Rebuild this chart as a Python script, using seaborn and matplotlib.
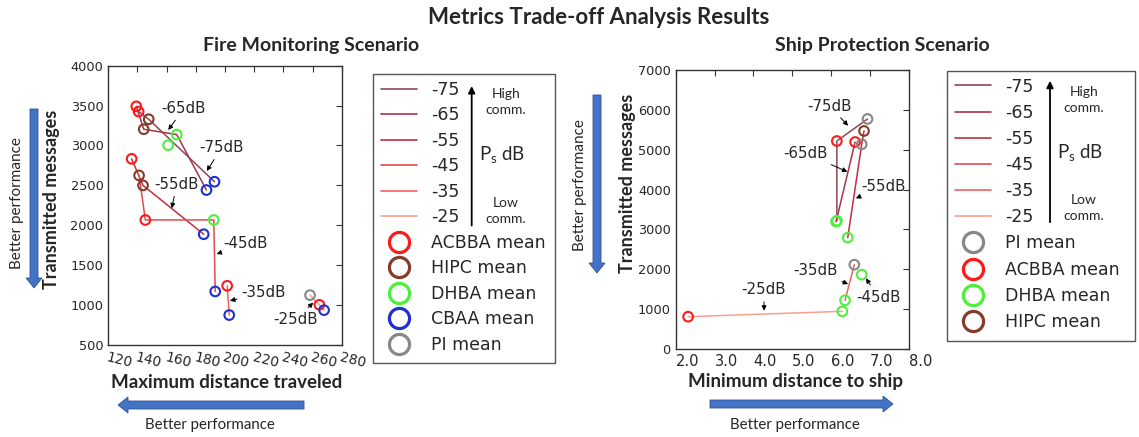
import numpy as np
import pandas as pd
import matplotlib
matplotlib.use("Agg")
import matplotlib.pyplot as plt
import seaborn as sns
from matplotlib.lines import Line2D
from matplotlib.patches import FancyArrow, FancyArrowPatch, Rectangle
from matplotlib.transforms import Affine2D

# ---------------- data ----------------
levels = ["-75", "-65", "-55", "-45", "-35", "-25"]

# Fire monitoring scenario (points listed in the order each power level's line visits them)
fire_level = ["-75", "-75", "-75", "-75",
              "-65", "-65", "-65", "-65",
              "-55", "-55", "-55",
              "-45", "-45", "-45", "-45",
              "-35", "-35",
              "-25", "-25", "-25"]
fire_alg = ["ACBBA", "HIPC", "CBAA", "DHBA",
            "ACBBA", "HIPC", "DHBA", "CBAA",
            "ACBBA", "HIPC", "CBAA",
            "HIPC", "ACBBA", "DHBA", "CBAA",
            "ACBBA", "CBAA",
            "PI", "ACBBA", "CBAA"]
fire_dist = [140.8, 147.7, 192.8, 161.0,
             139.2, 144.3, 166.9, 187.3,
             136.0, 143.8, 185.4,
             141.1, 145.4, 192.3, 193.3,
             201.5, 202.9,
             258.3, 264.7, 267.9]
fire_msgs = [3425, 3329, 2546, 3004,
             3491, 3204, 3137, 2442,
             2833, 2500, 1888,
             2625, 2067, 2067, 1171,
             1242, 875,
             1125, 1004, 937]
fire_linked = [True, True, True, False,
               True, True, True, True,
               True, True, True,
               True, True, True, True,
               True, True,
               True, True, True]

# Ship protection scenario
ship_level = ["-75", "-75", "-75",
              "-65", "-65",
              "-55", "-55", "-55",
              "-45",
              "-35", "-35",
              "-25", "-25"]
ship_alg = ["PI", "ACBBA", "DHBA",
            "ACBBA", "DHBA",
            "HIPC", "PI", "DHBA",
            "DHBA",
            "PI", "DHBA",
            "ACBBA", "DHBA"]
ship_dist = [6.94, 6.15, 6.15,
             6.62, 6.13,
             6.85, 6.79, 6.43,
             6.79,
             6.60, 6.36,
             2.32, 6.29]
ship_msgs = [5766, 5215, 3220,
             5190, 3195,
             5466, 5132, 2794,
             1868,
             2118, 1227,
             816, 951]

fire_legend_algs = ["ACBBA", "HIPC", "DHBA", "CBAA", "PI"]
ship_legend_algs = ["PI", "ACBBA", "DHBA", "HIPC"]

# ---------------- styling ----------------
level_colors = dict(zip(levels, ["#8e4656", "#a5354a", "#c22f40",
                                 "#e04a50", "#f06262", "#f7a08e"]))
alg_colors = {"ACBBA": "#ff1a1a", "HIPC": "#843c2c", "DHBA": "#4cf03c",
              "CBAA": "#1f2fd0", "PI": "#888888"}
arrow_blue, arrow_edge = "#4472C4", "#2F5597"

sns.set_theme(style="white")
plt.rcParams["font.family"] = ["DejaVu Sans"]
plt.rcParams["axes.edgecolor"] = "#333333"
plt.rcParams["axes.linewidth"] = 1.0
CAL = "Lato"

W, H = 1139, 437
fig = plt.figure(figsize=(W / 100, H / 100), dpi=100)
P = Affine2D().scale(1 / W, -1 / H).translate(0, 1) + fig.transFigure


def ax_rect(l, t, r, b):
    return [l / W, 1 - b / H, (r - l) / W, (b - t) / H]


ax1 = fig.add_axes(ax_rect(108.3, 65.7, 341.7, 345.0))
ax2 = fig.add_axes(ax_rect(675.7, 69.7, 908.7, 349.3))

fire = pd.DataFrame({"level": fire_level, "alg": fire_alg, "dist": fire_dist,
                     "msgs": fire_msgs, "linked": fire_linked})
ship = pd.DataFrame({"level": ship_level, "alg": ship_alg, "dist": ship_dist,
                     "msgs": ship_msgs})
ship["linked"] = True


def draw(ax, df):
    lk = df[df["linked"]]
    sns.lineplot(data=lk, x="dist", y="msgs", hue="level", hue_order=levels,
                 palette=level_colors, sort=False, estimator=None,
                 legend=False, lw=1.1, ax=ax, zorder=2)
    sns.scatterplot(data=df, x="dist", y="msgs", hue="alg", palette=alg_colors,
                    s=48, legend=False, ax=ax, zorder=3)
    coll = ax.collections[-1]
    coll.set_edgecolors(coll.get_facecolors())
    coll.set_facecolor("none")
    coll.set_linewidth(1.5)


draw(ax1, fire)
draw(ax2, ship)

for ax in (ax1, ax2):
    ax.set_xlabel("")
    ax.set_ylabel("")
    ax.tick_params(direction="in", top=True, right=True, length=4, width=0.8,
                   color="#333333", labelsize=9.3, pad=3.5)

ax1.set_xlim(120, 280)
ax1.set_ylim(500, 4000)
ax1.set_xticks(np.arange(120, 281, 20))
ax1.set_yticks(np.arange(500, 4001, 500))
for lab in ax1.get_xticklabels():
    lab.set_rotation(-14)
    lab.set_ha("left")
    lab.set_va("top")
    lab.set_rotation_mode("anchor")
    lab.set_fontsize(10)

ax2.set_xlim(2, 8)
ax2.set_ylim(0, 7000)
ax2.set_xticks(np.arange(2, 8.01, 1))
ax2.set_xticklabels([f"{v:.1f}" for v in np.arange(2, 8.01, 1)])
ax2.set_yticks(np.arange(0, 7001, 1000))
for lab in ax2.get_xticklabels():
    lab.set_ha("left")
    lab.set_fontsize(10.5)

# power level annotations: (label, arrow tip, text centre)
fire_notes = [("-65dB", (161.1, 3194), (171.8, 3466)),
              ("-75dB", (187.5, 2681), (197.9, 2973)),
              ("-55dB", (163.5, 2213), (166.9, 2514)),
              ("-45dB", (194.3, 1640), (214.1, 1775)),
              ("-35dB", (203.4, 1055), (226.7, 1156)),
              ("-25dB", (260.5, 1030), (248.5, 822))]
ship_notes = [("-75dB", (6.44, 5598), (5.96, 6091)),
              ("-65dB", (6.42, 4446), (5.34, 4907)),
              ("-55dB", (6.64, 3780), (7.34, 4081)),
              ("-35dB", (6.44, 1635), (5.59, 1965)),
              ("-45dB", (6.90, 1778), (7.21, 1309)),
              ("-25dB", (4.28, 966), (4.26, 1492))]
for ax, notes in ((ax1, fire_notes), (ax2, ship_notes)):
    for txt, tip, pos in notes:
        ax.annotate(txt, xy=tip, xytext=pos, ha="center", va="center",
                    fontsize=10.8, zorder=4,
                    arrowprops=dict(arrowstyle="-|>", color="black", lw=0.7,
                                    mutation_scale=7, shrinkA=1, shrinkB=0))

# axis titles
ax1.set_ylabel("Transmitted messages", family=CAL, fontweight="bold",
               fontsize=13, va="center")
ax1.yaxis.set_label_coords((51.7 - 108.3) / 233.4, (345 - 199) / 279.3)
ax1.set_xlabel("Maximum distance traveled", family=CAL, fontweight="bold",
               fontsize=13.5, va="center")
ax1.xaxis.set_label_coords((226.7 - 108.3) / 233.4, (345 - 382) / 279.3)
ax2.set_ylabel("Transmitted messages", family=CAL, fontweight="bold",
               fontsize=13, va="center")
ax2.yaxis.set_label_coords((628 - 675.7) / 233, (349.3 - 183) / 279.6)
ax2.set_xlabel("Minimum distance to ship", family=CAL, fontweight="bold",
               fontsize=13.5, va="center")
ax2.xaxis.set_label_coords((795 - 675.7) / 233, (349.3 - 382) / 279.6)


def ptext(x, y, s, **kw):
    kw.setdefault("ha", "center")
    kw.setdefault("va", "center")
    kw.setdefault("family", CAL)
    fig.text(x / W, 1 - y / H, s, **kw)


ptext(599, 17, "Metrics Trade-off Analysis Results", fontsize=16, fontweight="bold")
ptext(311, 46, "Fire Monitoring Scenario", fontsize=14, fontweight="bold")
ptext(882, 46, "Ship Protection Scenario", fontsize=14, fontweight="bold")

# "better performance" arrows
def blue_arrow(x0, y0, x1, y1):
    fig.add_artist(FancyArrow(x0, y0, x1 - x0, y1 - y0, width=8, head_width=16,
                              head_length=10, length_includes_head=True,
                              transform=P, fc=arrow_blue, ec=arrow_edge, lw=0.6))


blue_arrow(34, 109, 34, 288)
blue_arrow(597, 95, 597, 273)
blue_arrow(304, 405, 118, 405)
blue_arrow(710, 404, 893, 404)
ptext(16.7, 203, "Better performance", fontsize=11, rotation=90)
ptext(580, 185, "Better performance", fontsize=11, rotation=90)
ptext(210, 425, "Better performance", fontsize=10.8)
ptext(795, 425, "Better performance", fontsize=10.8)

# legends
def legend_block(algs, box, anchor, spacing, arrow_x, arrow_y, high_xy, ps_xy, low_xy):
    handles = [Line2D([], [], color=level_colors[l], lw=1.2) for l in levels]
    handles += [Line2D([], [], ls="", marker="o", mfc="none",
                       mec=alg_colors[a], mew=2.3, ms=14.5) for a in algs]
    labels = levels + [f"{a} mean" for a in algs]
    fig.legend(handles, labels, loc="upper left",
               bbox_to_anchor=(anchor[0] / W, 1 - anchor[1] / H),
               frameon=False, fontsize=12.5, handlelength=2.1,
               handletextpad=0.8, labelspacing=spacing, borderpad=0,
               borderaxespad=0)
    l, t, r, b = box
    fig.add_artist(Rectangle((l, t), r - l, b - t, transform=P, fill=False,
                             ec="#555555", lw=1.0))
    fig.add_artist(FancyArrowPatch((arrow_x, arrow_y[0]), (arrow_x, arrow_y[1]),
                                   transform=P, arrowstyle="-|>",
                                   mutation_scale=10, lw=1.3, color="black"))
    ptext(*high_xy, "High\ncomm.", fontsize=10, linespacing=1.4)
    ptext(*ps_xy, "P$_\\mathregular{s}$ dB", fontsize=13.5)
    ptext(*low_xy, "Low\ncomm.", fontsize=10, linespacing=1.4)


legend_block(fire_legend_algs, (373.3, 74.3, 555, 363), (381, 81), 0.43,
             471.7, (228.3, 83.3), (505.7, 101.7), (501.7, 155), (505.7, 210.5))
legend_block(ship_legend_algs, (947.3, 71, 1135, 341), (955, 77.5), 0.47,
             1050, (225, 78), (1084, 99.7), (1080, 153), (1084, 208))

fig.savefig("out.png", dpi=100)
